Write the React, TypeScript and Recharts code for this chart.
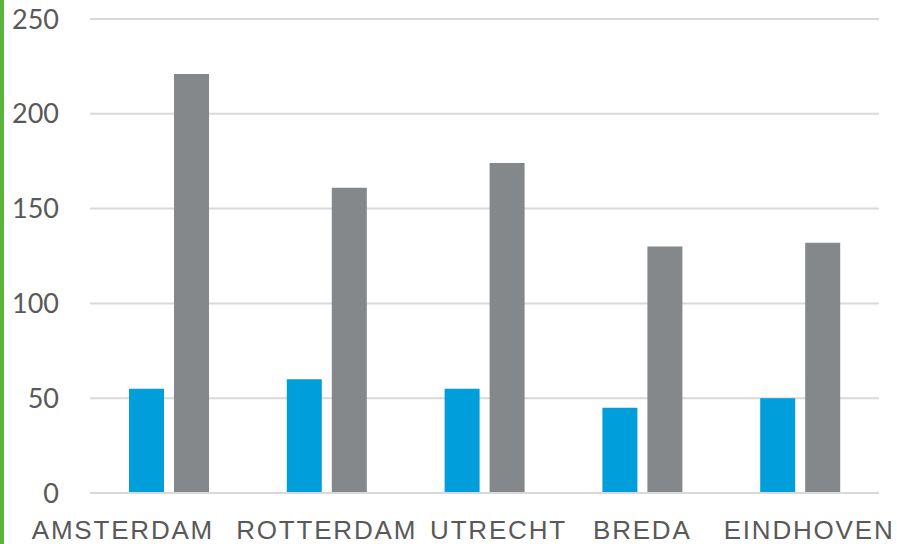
import { BarChart, Bar, XAxis, YAxis, CartesianGrid } from 'recharts';

const cities = ['AMSTERDAM', 'ROTTERDAM', 'UTRECHT', 'BREDA', 'EINDHOVEN'];
const blueValues = [55, 60, 55, 45, 50];
const grayValues = [221, 161, 174, 130, 132];
const yTicks = [0, 50, 100, 150, 200, 250];

const data = cities.map((city, i) => ({ city, blue: blueValues[i], gray: grayValues[i] }));

// labels in the source are nudged sideways so they do not collide
const labelShift = [-46, 0, 14, 0, 9];

const CityTick = (props: any) => {
    const { x, y, payload, index } = props;
    return (
        <text
            x={x + (labelShift[index] || 0)}
            y={y}
            dy={19}
            textAnchor="middle"
            fill="#595959"
            fontSize={26}
            fontFamily="Liberation Sans, Arial, sans-serif"
            letterSpacing={1.8}
        >
            {payload.value}
        </text>
    );
};

const App = () => {
    return (
        <div style={{ position: 'absolute', left: 0, top: 0, width: 897, height: 544, background: '#fff' }}>
            <div style={{ position: 'absolute', left: 0, top: 0, width: 4, height: 544, background: '#5BB538' }} />
            <BarChart
                width={897}
                height={544}
                data={data}
                margin={{ top: 19, right: 18, left: 0, bottom: 0 }}
                barGap={10}
                barCategoryGap={39}
            >
                <CartesianGrid vertical={false} stroke="#D9D9D9" strokeWidth={2} />
                <XAxis
                    dataKey="city"
                    height={51}
                    axisLine={{ stroke: '#D9D9D9', strokeWidth: 2 }}
                    tickLine={false}
                    tickSize={0}
                    tickMargin={27}
                    interval={0}
                    tick={<CityTick />}
                />
                <YAxis
                    width={90}
                    domain={[0, 250]}
                    ticks={yTicks}
                    axisLine={false}
                    tickLine={false}
                    tickSize={0}
                    tickMargin={31}
                    tick={{ fill: '#595959', fontSize: 27, fontFamily: 'Lato, sans-serif' }}
                />
                <Bar dataKey="blue" fill="#009EDB" barSize={35} isAnimationActive={false} />
                <Bar dataKey="gray" fill="#85888B" barSize={35} isAnimationActive={false} />
            </BarChart>
        </div>
    );
};

export default App;
